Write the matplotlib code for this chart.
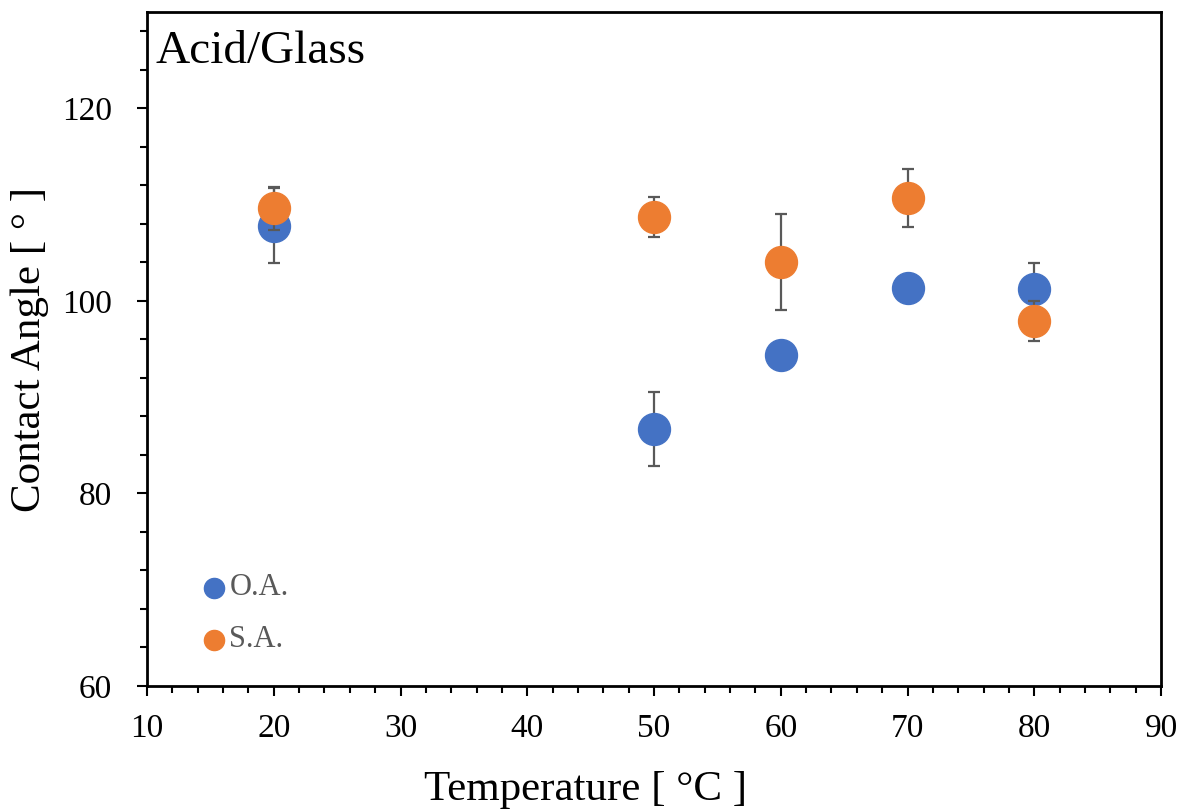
import matplotlib.pyplot as plt
from matplotlib.ticker import MultipleLocator

plt.rcParams['font.family'] = ['Liberation Serif', 'DejaVu Serif']

temps = [20, 50, 60, 70, 80]
oa_angle = [107.8, 86.7, 94.4, 101.3, 101.2]
oa_err = [3.9, 3.8, 1.0, 0.5, 2.7]
sa_angle = [109.6, 108.7, 104.0, 110.7, 97.9]
sa_err = [2.2, 2.1, 5.0, 3.0, 2.1]

blue = '#4472C4'
orange = '#ED7D31'
grey = '#595959'

fig = plt.figure(figsize=(11.85, 8.11), dpi=100)
ax = fig.add_axes([147/1185, 1 - 686/811, (1161-147)/1185, (686-12)/811])

ax.errorbar(temps, oa_angle, yerr=oa_err, fmt='o', color=blue, ms=23,
            ecolor=grey, elinewidth=1.6, capsize=4.5, capthick=1.6, zorder=3)
ax.errorbar(temps, sa_angle, yerr=sa_err, fmt='o', color=orange, ms=23,
            ecolor=grey, elinewidth=1.6, capsize=4.5, capthick=1.6, zorder=4)

ax.set_xlim(10, 90)
ax.set_ylim(60, 130)
ax.xaxis.set_major_locator(MultipleLocator(10))
ax.xaxis.set_minor_locator(MultipleLocator(2))
ax.yaxis.set_major_locator(MultipleLocator(20))
ax.yaxis.set_minor_locator(MultipleLocator(4))
ax.tick_params(which='major', direction='out', length=7, width=1.5, labelsize=24)
ax.tick_params(which='minor', direction='out', length=5, width=1.5)
ax.tick_params(axis='x', which='major', pad=13)
ax.tick_params(axis='y', which='major', pad=18)
for s in ax.spines.values():
    s.set_linewidth(2)

ax.set_xlabel('Temperature [ °C ]', fontsize=31)
ax.set_ylabel('Contact Angle [ ° ]', fontsize=31)
ax.xaxis.set_label_coords(0.433, -0.125)
ax.yaxis.set_label_coords(-0.097, 0.5)
ax.text(0.008, 0.972, 'Acid/Glass', transform=ax.transAxes, fontsize=34,
        va='top', ha='left')

# legend
ax.plot([15.3], [70.2], 'o', color=blue, ms=14.5, clip_on=False)
ax.text(16.5, 70.2, 'O.A.', fontsize=22, color=grey, va='center')
ax.plot([15.3], [64.8], 'o', color=orange, ms=14.5, clip_on=False)
ax.text(16.5, 64.8, 'S.A.', fontsize=22, color=grey, va='center')

fig.savefig('out.png', dpi=100)
